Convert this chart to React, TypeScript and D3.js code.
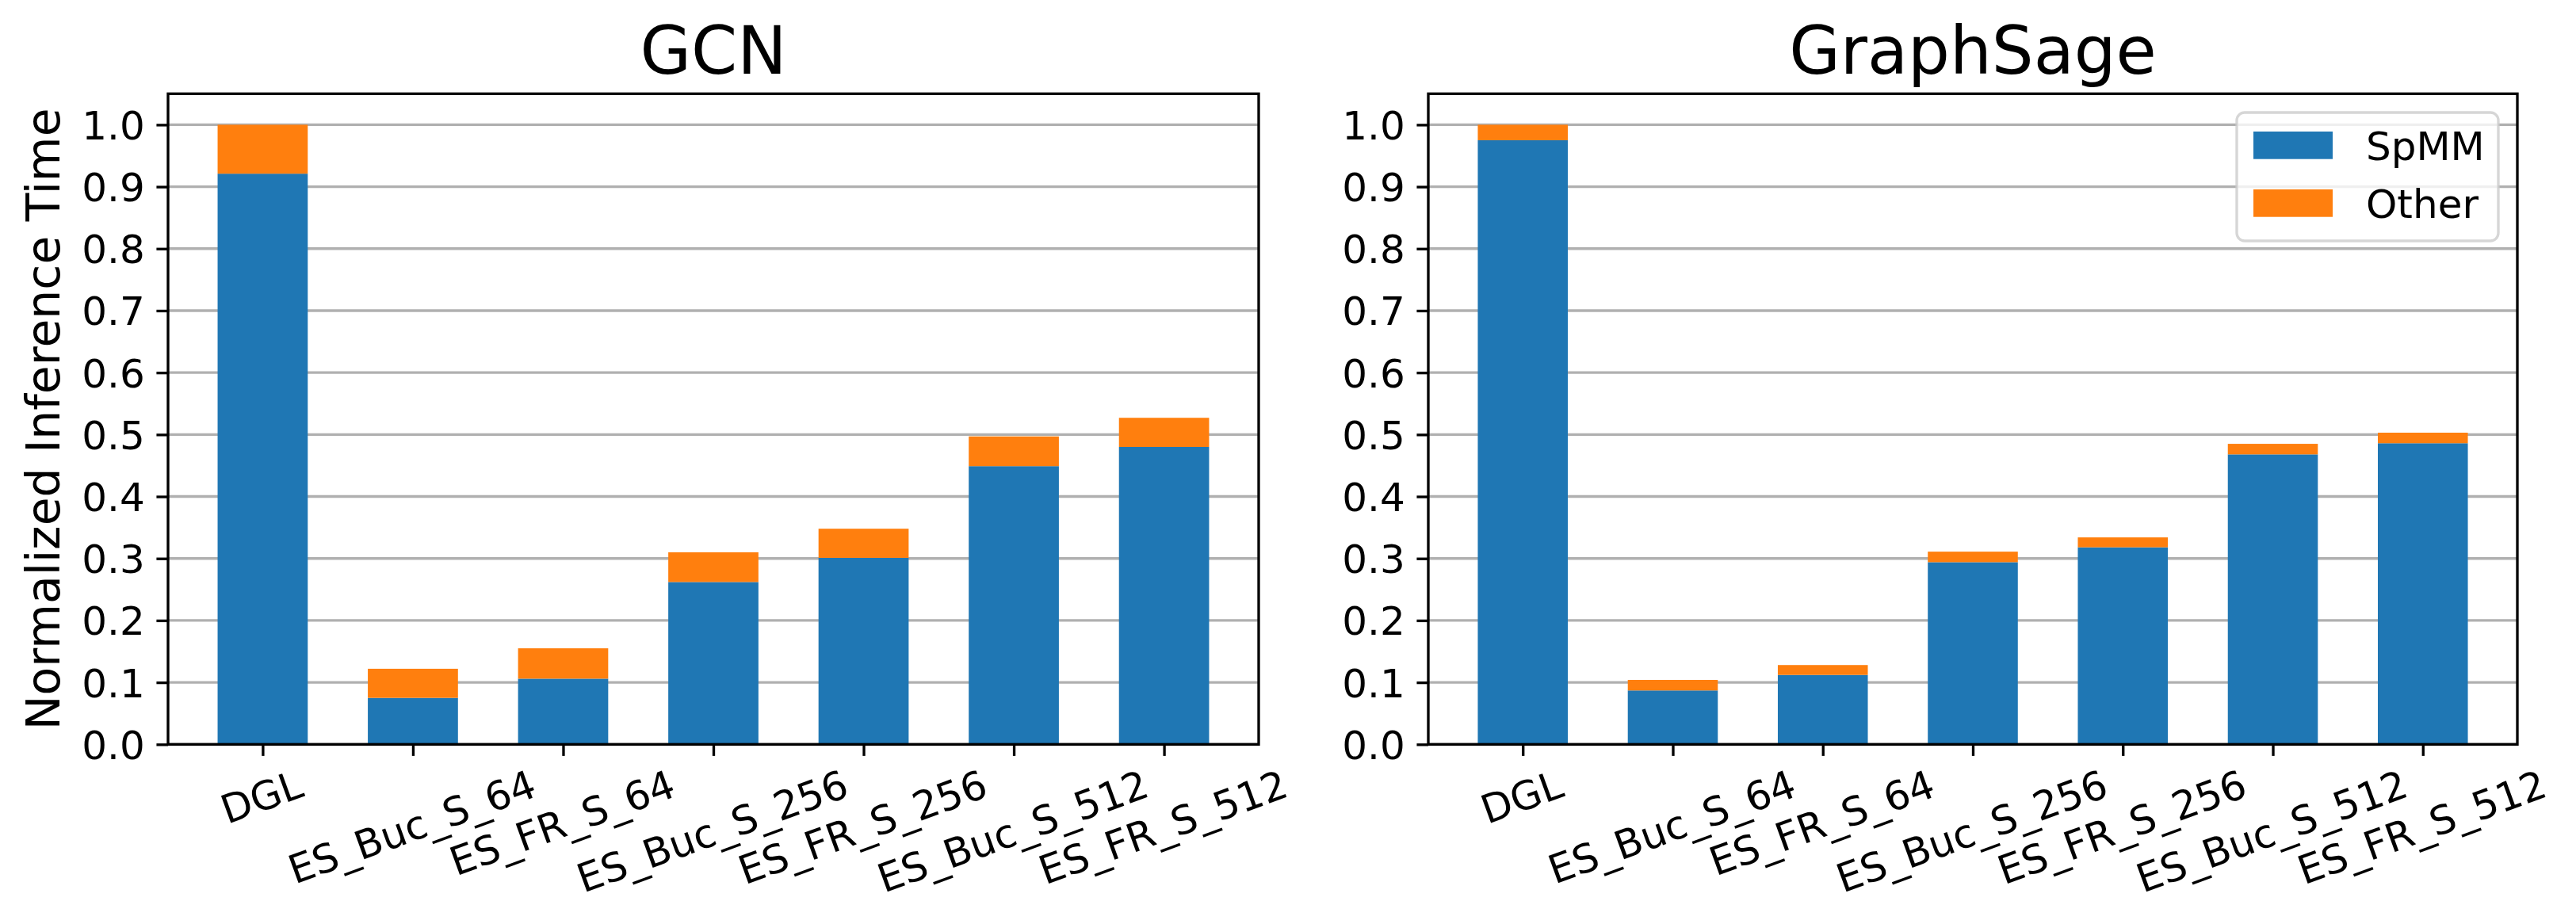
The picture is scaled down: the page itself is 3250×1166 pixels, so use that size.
import React, { useEffect, useRef } from 'react';
import * as d3 from 'd3';

const categories = ['DGL', 'ES_Buc_S_64', 'ES_FR_S_64', 'ES_Buc_S_256', 'ES_FR_S_256', 'ES_Buc_S_512', 'ES_FR_S_512'];

// GCN
const gcnSpmm = [0.921, 0.075, 0.106, 0.262, 0.301, 0.449, 0.480];
const gcnOther = [0.079, 0.047, 0.049, 0.048, 0.047, 0.048, 0.047];

// GraphSage
const sageSpmm = [0.975, 0.087, 0.112, 0.294, 0.318, 0.468, 0.486];
const sageOther = [0.025, 0.017, 0.016, 0.017, 0.016, 0.017, 0.017];

const yTicks = [0, 0.1, 0.2, 0.3, 0.4, 0.5, 0.6, 0.7, 0.8, 0.9, 1.0];
const seriesNames = ['SpMM', 'Other'];
const colors = ['#1f77b4', '#ff7f0e'];

const W = 3250, H = 1166;
const PT = 300 / 72;
const FONT = 'DejaVu Sans, sans-serif';

const App = () => {
    const ref = useRef(null);

    useEffect(() => {
        const svg = d3.select(ref.current);
        svg.selectAll('*').remove();
        svg.append('rect').attr('width', W).attr('height', H).attr('fill', 'white');

        const top = 118.3, bottom = 939.3;
        const panels = [
            { title: 'GCN', spmm: gcnSpmm, other: gcnOther, left: 212, right: 1588, ylabel: true, legend: false },
            { title: 'GraphSage', spmm: sageSpmm, other: sageOther, left: 1802, right: 3176, ylabel: false, legend: true },
        ];

        const y = d3.scaleLinear().domain([0, 1.05]).range([bottom, top]);
        const n = categories.length;
        const barW = 0.6;
        const pad = 0.05 * (n - 1 + barW);

        panels.forEach(p => {
            const x = d3.scaleLinear()
                .domain([-barW / 2 - pad, n - 1 + barW / 2 + pad])
                .range([p.left, p.right]);
            const g = svg.append('g');

            // grid
            g.selectAll('.grid')
                .data(yTicks)
                .enter().append('line')
                .attr('x1', p.left).attr('x2', p.right)
                .attr('y1', d => y(d)).attr('y2', d => y(d))
                .attr('stroke', '#b0b0b0')
                .attr('stroke-width', 0.8 * PT);

            // bars
            g.selectAll('.spmm')
                .data(p.spmm)
                .enter().append('rect')
                .attr('x', (d, i) => x(i - barW / 2))
                .attr('width', x(barW) - x(0))
                .attr('y', d => y(d))
                .attr('height', d => y(0) - y(d))
                .attr('fill', colors[0]);
            g.selectAll('.other')
                .data(p.other)
                .enter().append('rect')
                .attr('x', (d, i) => x(i - barW / 2))
                .attr('width', x(barW) - x(0))
                .attr('y', (d, i) => y(p.spmm[i] + d))
                .attr('height', (d, i) => y(p.spmm[i]) - y(p.spmm[i] + d))
                .attr('fill', colors[1]);

            // y axis
            const yAxis = g.append('g')
                .attr('transform', `translate(${p.left},0)`)
                .call(d3.axisLeft(y).tickValues(yTicks).tickFormat(d3.format('.1f'))
                    .tickSize(3.5 * PT).tickPadding(3.5 * PT));
            yAxis.select('.domain').remove();
            yAxis.selectAll('line').attr('stroke', 'black').attr('stroke-width', 0.8 * PT);
            yAxis.selectAll('text')
                .attr('font-family', FONT).attr('font-size', 12 * PT)
                .attr('fill', 'black').attr('dy', '0.36em');

            // x axis ticks
            const xAxis = g.append('g')
                .attr('transform', `translate(0,${bottom})`)
                .call(d3.axisBottom(x).tickValues(d3.range(n)).tickFormat(() => '')
                    .tickSize(3.5 * PT));
            xAxis.select('.domain').remove();
            xAxis.selectAll('line').attr('stroke', 'black').attr('stroke-width', 0.8 * PT);

            // rotated x labels, centred like matplotlib's rotation=20
            const fs = 12 * PT;
            const ang = 20 * Math.PI / 180;
            const labTop = bottom + 7 * PT;
            const hBox = 0.968 * fs;
            g.selectAll('.xlab')
                .data(categories)
                .enter().append('text')
                .attr('font-family', FONT).attr('font-size', fs)
                .attr('text-anchor', 'middle')
                .attr('y', 0.276 * fs)
                .text(d => d)
                .each(function (d, i) {
                    const w = this.getComputedTextLength();
                    const bh = w * Math.sin(ang) + hBox * Math.cos(ang);
                    d3.select(this).attr('transform', `translate(${x(i)},${labTop + bh / 2}) rotate(-20)`);
                });

            // spines
            g.append('rect')
                .attr('x', p.left).attr('y', top)
                .attr('width', p.right - p.left).attr('height', bottom - top)
                .attr('fill', 'none').attr('stroke', 'black').attr('stroke-width', 0.8 * PT);

            // title
            g.append('text')
                .attr('x', (p.left + p.right) / 2).attr('y', top - 6 * PT)
                .attr('text-anchor', 'middle')
                .attr('font-family', FONT).attr('font-size', 20 * PT)
                .text(p.title);

            if (p.ylabel) {
                g.append('text')
                    .attr('transform', `translate(75,${(top + bottom) / 2}) rotate(-90)`)
                    .attr('text-anchor', 'middle')
                    .attr('font-family', FONT).attr('font-size', 14 * PT)
                    .text('Normalized Inference Time');
            }

            if (p.legend) {
                const lg = g.append('g');
                lg.append('rect')
                    .attr('x', 2822).attr('y', 142)
                    .attr('width', 330).attr('height', 162)
                    .attr('rx', 10).attr('ry', 10)
                    .attr('fill', 'white').attr('fill-opacity', 0.8)
                    .attr('stroke', '#cccccc').attr('stroke-opacity', 0.8)
                    .attr('stroke-width', 0.8 * PT);
                seriesNames.forEach((s, i) => {
                    const rowY = 166 + i * 73;
                    lg.append('rect')
                        .attr('x', 2843).attr('y', rowY)
                        .attr('width', 100).attr('height', 34.7)
                        .attr('fill', colors[i]);
                    lg.append('text')
                        .attr('x', 2985).attr('y', rowY + 35.5)
                        .attr('font-family', FONT).attr('font-size', 12 * PT)
                        .text(s);
                });
            }
        });
    }, []);

    return <svg ref={ref} width={W} height={H} style={{ position: 'absolute', left: 0, top: 0 }} />;
};

export default App;
